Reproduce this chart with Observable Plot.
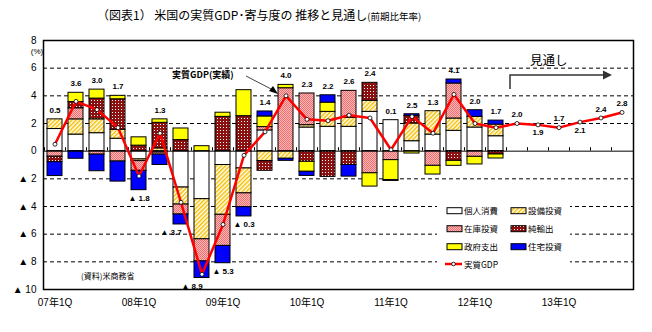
<!DOCTYPE html>
<html><head><meta charset="utf-8">
<script src="https://cdn.jsdelivr.net/npm/d3@7"></script>
<script src="https://cdn.jsdelivr.net/npm/@observablehq/plot@0.6"></script>
<style>
body{margin:0;background:#fff;}
#wrap{position:relative;width:652px;height:332px;font-family:"Liberation Sans","DejaVu Sans","Noto Sans CJK JP",sans-serif;}
#wrap > svg{position:absolute;left:0;top:0;}
</style></head><body>
<svg width="0" height="0" style="position:absolute">
<defs>
<pattern id="hatch" width="3" height="3" patternUnits="userSpaceOnUse" patternTransform="rotate(45)">
<rect width="3" height="3" fill="#fff"/><rect width="1.5" height="3" fill="#f5c000"/>
</pattern>
<pattern id="pinkdot" width="2" height="2" patternUnits="userSpaceOnUse">
<rect width="2" height="2" fill="#ffb8b8"/><rect width="1" height="1" fill="#ee6f6f"/><rect x="1" y="1" width="1" height="1" fill="#ee6f6f"/>
</pattern>
<pattern id="maroon" width="3" height="3" patternUnits="userSpaceOnUse">
<rect width="3" height="3" fill="#8b1010"/><rect x="1" y="1" width="1" height="1" fill="#fff"/>
</pattern>
</defs></svg>
<div id="wrap"></div>
<script>
// ---- data ----
const years = ["07","08","09","10","11","12","13"];
const quarters = [];
for (const y of years) for (const q of [1,2,3,4]) quarters.push(y + "Q" + q);
const actualQuarters = quarters.slice(0, 22);

const components = ["個人消費","設備投資","在庫投資","純輸出","政府支出","住宅投資"];
const personal   = [1.6, 1.2, 1.3, 0.9, -0.6, -0.1, -2.63, -3.47, -1.0, -1.25, 1.5, 0, 1.71, 1.76, 1.76, 2.84, 2.24, 0.72, 1.2, 1.47, 1.71, 1.08];
const capex      = [0.7, 1.1, 1.0, 0.65, -0.12, 0.2, -1.23, -2.9, -3.6, -1.8, -0.72, -0.55, 0.17, 1.08, 0.65, 0.8, 0, 1.28, 1.69, 0.89, 0.77, 0.84];
const inventory  = [-0.4, 0.8, -0.25, -0.75, -0.7, -0.15, -0.72, -1.6, -2.25, -1.0, 0.24, 4.55, 2.29, 0, 1.95, -1.6, -0.65, 0, -1.06, 2.53, -0.41, 0];
const netExports = [-0.4, 0.45, 1.5, 2.2, 0.4, 1.85, 0.8, 0, 2.48, 2.53, -0.7, 0, -0.77, -1.86, -1.0, 1.3, 0, 0.55, 0, -0.7, 0, -0.24];
const government = [0, 0.67, 0.65, 0.25, 0.6, 0.25, 0.84, 0.36, 0.3, 1.88, 0.77, 0.24, -0.72, 0.67, 0, -0.96, -1.45, -0.17, -0.63, -0.36, -0.55, -0.29];
const housing    = [-1.0, -0.55, -1.2, -1.45, -1.4, -0.75, -0.72, -1.2, -1.25, -0.67, 0.36, -0.15, -0.3, 0.53, -0.84, 0, -0.05, 0.12, 0, 0.29, 0.48, 0.29];
const gdp = [0.5, 3.6, 3.0, 1.7, -1.8, 1.3, -3.7, -8.9, -5.3, -0.3, 1.4, 4.0, 2.3, 2.2, 2.6, 2.4, 0.1, 2.5, 1.3, 4.1, 2.0, 1.7,
             2.0, 1.9, 1.7, 2.1, 2.4, 2.8];
const yTicks = [-10, -8, -6, -4, -2, 0, 2, 4, 6, 8];

// ---- tables ----
const series = [personal, capex, inventory, netExports, government, housing];
const fills = ["white", "url(#hatch)", "url(#pinkdot)", "url(#maroon)", "#ffff00", "#0000ff"];
const table = [];
components.forEach((c, k) => actualQuarters.forEach((q, i) => {
  if (series[k][i] !== 0) table.push({q, comp: c, v: series[k][i]});
}));
const gdpTable = quarters.map((q, i) => ({q, v: gdp[i]}));
const fmt = v => v < 0 ? "▲ " + Math.abs(v).toFixed(1) : v.toFixed(1);
const forecastBelow = new Set(["12Q4", "13Q2"]);
const shiftLeft = new Set(["08Q3", "08Q4"]);
const labels = quarters.map((q, i) => {
  const g = gdp[i];
  if (i < actualQuarters.length) {
    const vals = series.map(s => s[i]);
    const pos = d3.sum(vals.filter(v => v > 0)), neg = d3.sum(vals.filter(v => v < 0));
    return {q, y: g >= 0 ? pos : neg, text: fmt(g), below: g < 0};
  }
  return {q, y: g, text: fmt(g), below: forecastBelow.has(q)};
});

const plot = Plot.plot({
  width: 652, height: 332,
  marginLeft: 43, marginRight: 19, marginTop: 40, marginBottom: 43,
  style: {fontFamily: '"Liberation Sans","DejaVu Sans","Noto Sans CJK JP",sans-serif', fontSize: "10px", background: "transparent", color: "black"},
  x: {type: "band", domain: quarters, paddingInner: 0.29, paddingOuter: 0.145,
      ticks: quarters.filter(q => q.endsWith("Q1")), tickFormat: q => q.slice(0, 2) + "年1Q",
      tickSize: 0, tickPadding: 9, label: null},
  y: {domain: [-10, 8], ticks: yTicks, tickFormat: d => d < 0 ? "▲ " + (-d) : String(d),
      tickSize: 0, tickPadding: 7, label: null},
  color: {domain: components, range: fills},
  marks: [
    Plot.ruleY(yTicks.filter(d => d !== 0 && d !== 8 && d !== -10), {stroke: "black", strokeDasharray: "4,3", strokeWidth: 1}),
    Plot.barY(table, {x: "q", y: "v", fill: "comp", stroke: "black", strokeWidth: 1}),
    Plot.ruleY([0], {stroke: "black", strokeWidth: 1}),
    Plot.ruleX(quarters, {x: d => d, y1: 0, y2: 0.25, dx: -10.5, stroke: "black"}),
    Plot.line(gdpTable, {x: "q", y: "v", stroke: "#ff0000", strokeWidth: 2.5}),
    Plot.dot(gdpTable, {x: "q", y: "v", r: 2, fill: "white", stroke: "black", strokeWidth: 0.8}),
    Plot.text(labels.filter(d => !d.below), {x: "q", y: "y", text: "text", dy: -9, fontWeight: "bold", fontSize: 8}),
    Plot.text(labels.filter(d => d.below && !shiftLeft.has(d.q)), {x: "q", y: "y", text: "text", dy: 8, fontWeight: "bold", fontSize: 8}),
    Plot.text(labels.filter(d => d.below && shiftLeft.has(d.q)), {x: "q", y: "y", text: "text", dy: 8, dx: -10, fontWeight: "bold", fontSize: 8}),
    Plot.frame({stroke: "black", strokeWidth: 1.5})
  ]
});
document.getElementById("wrap").appendChild(plot);

// ---- annotations & legend overlay ----
const ov = d3.select("#wrap").append("svg").attr("width", 652).attr("height", 332)
  .style("font-family", '"Noto Sans CJK JP","Liberation Sans",sans-serif');
// title
const t = ov.append("text").attr("x", 97).attr("y", 20).attr("font-size", 12).attr("fill", "#000");
t.append("tspan").text("（図表1） 米国の実質GDP･寄与度の 推移と見通し");
t.append("tspan").attr("font-size", 9.5).text("(前期比年率)");
// unit
ov.append("text").attr("x", 37).attr("y", 54).attr("font-size", 8).attr("text-anchor", "middle")
  .attr("font-family", '"Liberation Sans",sans-serif').text("(%)");
// 実質GDP(実績)
ov.append("text").attr("x", 172).attr("y", 78).attr("font-size", 9).attr("font-weight", "bold").text("実質GDP(実績)");
ov.append("line").attr("x1", 246).attr("y1", 76).attr("x2", 273).attr("y2", 90).attr("stroke", "#444").attr("stroke-width", 1);
ov.append("polygon").attr("points", "278,94 269,91 273,86").attr("fill", "#000");
// 見通し
ov.append("text").attr("x", 530).attr("y", 65).attr("font-size", 12.5).text("見通し");
ov.append("polyline").attr("points", "510,89 510,75 603,75").attr("fill", "none").attr("stroke", "#333").attr("stroke-width", 1.5);
ov.append("polygon").attr("points", "603,70.5 612,75 603,79.5").attr("fill", "#333");
// source
ov.append("text").attr("x", 81).attr("y", 279).attr("font-size", 8).text("(資料)米商務省");
// legend
const lg = ov.append("g");
lg.append("rect").attr("x", 437).attr("y", 199).attr("width", 133).attr("height", 74).attr("fill", "white");
const rowsY = [210.7, 228.7, 246.7];
components.forEach((c, k) => {
  const col = k % 2, row = Math.floor(k / 2);
  const x0 = col === 0 ? 447 : 511;
  lg.append("rect").attr("x", x0).attr("y", rowsY[row] - 3).attr("width", 15).attr("height", 6)
    .attr("fill", fills[k]).attr("stroke", "black").attr("stroke-width", 1);
  lg.append("text").attr("x", x0 + 17).attr("y", rowsY[row] + 3.5).attr("font-size", 8.5).text(c);
});
lg.append("line").attr("x1", 445).attr("x2", 462).attr("y1", 264).attr("y2", 264).attr("stroke", "#ff0000").attr("stroke-width", 2.5);
lg.append("circle").attr("cx", 453.5).attr("cy", 264).attr("r", 1.8).attr("fill", "white").attr("stroke", "black").attr("stroke-width", 0.8);
lg.append("text").attr("x", 464).attr("y", 267.5).attr("font-size", 8.5).text("実質GDP");
</script>
</body></html>
